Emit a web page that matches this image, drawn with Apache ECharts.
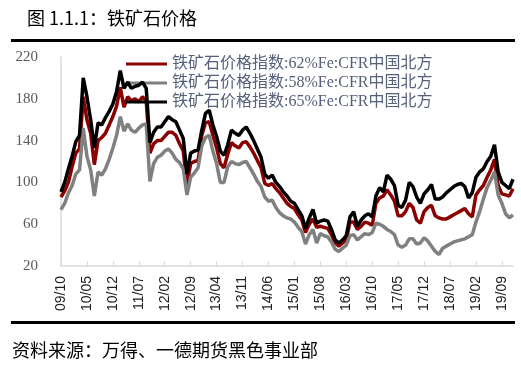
<!DOCTYPE html>
<html>
<head>
<meta charset="utf-8">
<script src="https://cdn.jsdelivr.net/npm/echarts@6/dist/echarts.min.js"></script>
<style>
html,body{margin:0;padding:0;background:#fff;}
#chart{width:521px;height:374px;}
</style>
</head>
<body>
<div id="chart"></div>
<script>
// Monthly categories 2009/10 .. 2019/12 (label format YY/MM)
var months = [];
(function(){
  var y = 2009, m = 10;
  for (var i = 0; i < 123; i++) {
    months.push(String(y % 100).padStart(2,'0') + '/' + String(m).padStart(2,'0'));
    m++; if (m > 12) { m = 1; y++; }
  }
})();

var seriesNames = ['铁矿石价格指数:62%Fe:CFR中国北方','铁矿石价格指数:58%Fe:CFR中国北方','铁矿石价格指数:65%Fe:CFR中国北方'];

var fe62 = [86,92,100,115,128,132,182,160,147,117,140,143,147,155,163,173,191,172,182,178,180,177,182,178,
128,137,140,140,144,148,148,145,137,130,98,118,120,121,145,157,158,145,133,118,114,127,138,135,133,138,139,
134,128,121,114,99,97,99,94,90,85,80,77,75,69,64,52,60,65,57,58,57,56,50,42,39,42,45,62,62,55,58,62,61,59,
80,85,87,93,88,82,68,68,72,80,76,64,61,72,76,78,68,66,65,65,67,69,71,73,75,70,67,88,93,97,105,112,122,97,89,88,87,94];

var fe58 = [74,80,90,97,108,112,152,125,112,87,110,107,113,122,133,145,163,149,156,150,148,152,155,156,
101,118,124,126,130,132,128,122,119,113,88,105,109,114,135,143,145,130,118,100,100,115,120,118,117,119,120,
114,108,101,96,86,82,83,76,71,68,66,65,62,57,53,41,50,55,42,51,49,48,43,36,34,37,40,49,50,45,48,51,50,52,
61,60,58,55,53,50,40,38,40,46,46,41,42,47,44,39,34,31,37,39,41,43,44,45,46,48,50,62,72,84,95,102,110,88,80,70,66,69];

var fe65 = [91,100,113,125,139,145,200,182,160,133,157,155,162,168,175,187,207,190,196,190,192,193,196,190,
138,148,153,153,158,163,160,158,150,142,108,128,130,131,150,166,169,155,144,130,126,136,150,147,145,150,153,
147,140,132,124,108,104,107,100,96,91,87,82,80,74,68,56,66,74,61,63,64,63,55,45,42,45,49,67,72,58,64,68,70,67,
87,95,91,107,103,97,78,76,83,100,96,86,80,89,93,98,84,84,86,90,93,96,98,99,96,85,90,105,110,113,120,125,136,110,100,97,94,103];

var yTicks = {min:20, max:220, interval:40};
var titleText = '图 1.1.1：铁矿石价格';
var sourceText = '资料来源：万得、一德期货黑色事业部';

var colors = ['#8b0000','#808080','#000000'];
var chart = echarts.init(document.getElementById('chart'), null, {renderer:'canvas'});
var dataSets = [fe62, fe58, fe65];
chart.setOption({
  animation:false,
  backgroundColor:'#ffffff',
  title:{text:titleText, left:22, top:4, textStyle:{fontSize:18, fontWeight:'normal', color:'#000', fontFamily:"'Noto Sans CJK SC', sans-serif"}},
  graphic:[
    {type:'line', shape:{x1:11,y1:40.5,x2:515,y2:40.5}, style:{stroke:'#000', lineWidth:3}},
    {type:'line', shape:{x1:11,y1:322.5,x2:515,y2:322.5}, style:{stroke:'#000', lineWidth:3}},
    {type:'text', left:12, top:341, style:{text:sourceText, fontSize:18, fill:'#000', fontFamily:"'Noto Sans CJK SC', sans-serif"}}
  ],
  legend:{
    orient:'vertical', left:121, top:51, itemWidth:41, itemHeight:3, itemGap:3,
    icon:'rect',
    textStyle:{fontSize:16, color:'#56607a', lineHeight:16, fontFamily:"'Liberation Serif','Noto Sans CJK SC', serif"},
    data:seriesNames
  },
  grid:{left:61, right:8, top:57, bottom:108, containLabel:false},
  xAxis:{
    type:'category', data:months, boundaryGap:false,
    axisLine:{lineStyle:{color:'#d9d9d9', width:1.5}},
    axisTick:{show:true, inside:true, length:5, interval:6, lineStyle:{color:'#d9d9d9'}},
    axisLabel:{interval:6, rotate:90, fontSize:14, color:'#222', margin:10, fontFamily:"'Liberation Sans', Arial, sans-serif"},
    splitLine:{show:false}
  },
  yAxis:{
    type:'value', min:yTicks.min, max:yTicks.max, interval:yTicks.interval,
    axisLine:{show:true, lineStyle:{color:'#d9d9d9', width:1.5}},
    axisTick:{show:false},
    axisLabel:{fontSize:15, color:'#595959', margin:23, fontFamily:"'Liberation Serif', 'Times New Roman', serif"},
    splitLine:{show:false}
  },
  series: seriesNames.map(function(n,i){
    return {name:n, type:'line', data:dataSets[i], symbol:'none', smooth:false,
      lineStyle:{color:colors[i], width:3.5}, itemStyle:{color:colors[i]}, z:2+i};
  })
});
</script>
</body>
</html>
